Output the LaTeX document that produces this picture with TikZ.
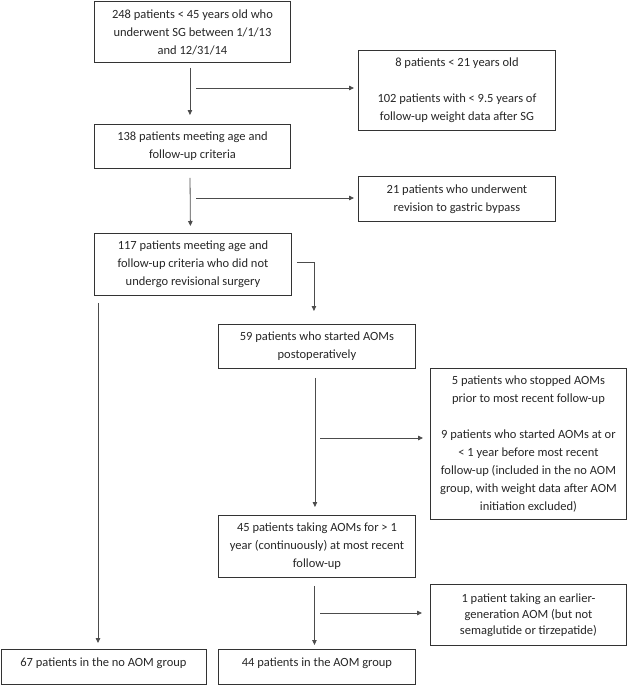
\documentclass[tikz,border=0pt]{standalone}
\usepackage{fontspec}
\setmainfont{Carlito}
\usetikzlibrary{arrows.meta}
\begin{document}
\begin{tikzpicture}[x=1pt,y=-1pt,
  box/.style={draw=black!80, line width=0.9pt, align=center, inner sep=0pt,
    anchor=north west, font=\fontsize{12.5}{18}\selectfont, text=black!85},
  arr/.style={draw=black!70, line width=0.8pt, -{Triangle[length=5pt,width=4.5pt]}}]
\useasboundingbox (0,0) rectangle (627,685);

\node[box, minimum width=196pt, minimum height=61pt] (b1) at (94,1)
  {248 patients < 45 years old who\\underwent SG between 1/1/13\\and 12/31/14};
\node[box, minimum width=197pt, minimum height=80pt] (r1) at (358,50)
  {8 patients < 21 years old\\\mbox{}\\102 patients with < 9.5 years of\\follow-up weight data after SG};
\node[box, minimum width=196pt, minimum height=44pt] (b2) at (94,124)
  {138 patients meeting age and\\follow-up criteria};
\node[box, minimum width=197pt, minimum height=45pt] (r2) at (358,176)
  {21 patients who underwent\\revision to gastric bypass};
\node[box, minimum width=197pt, minimum height=62pt] (b3) at (94,233)
  {117 patients meeting age and\\follow-up criteria who did not\\undergo revisional surgery};
\node[box, minimum width=197pt, minimum height=44pt] (b4) at (218,324)
  {59 patients who started AOMs\\postoperatively};
\node[box, minimum width=196pt, minimum height=151pt] (r3) at (430,368)
  {5 patients who stopped AOMs\\prior to most recent follow-up\\\mbox{}\\9 patients who started AOMs at or\\< 1 year before most recent\\follow-up (included in the no AOM\\group, with weight data after AOM\\initiation excluded)};
\node[box, minimum width=197pt, minimum height=62pt] (b5) at (218,515)
  {45 patients taking AOMs for > 1\\year (continuously) at most recent\\follow-up};
\node[box, minimum width=196pt, minimum height=61pt, font=\fontsize{12.5}{16}\selectfont] (r4) at (430,584)
  {1 patient taking an earlier-\\generation AOM (but not\\semaglutide or tirzepatide)};
\node[box, minimum width=205pt, text height=17pt, text depth=18pt] (bl) at (0.5,649)
  {67 patients in the no AOM group};
\node[box, minimum width=197pt, text height=17pt, text depth=18pt] (br) at (218,649)
  {44 patients in the AOM group};

% main flow
\draw[arr, shorten <=5pt, shorten >=9pt] ([xshift=-2.5pt]b1.south) -- ([xshift=-2.5pt]b2.north);
\coordinate (h1) at (196,88);
\draw[arr, shorten >=4pt] (h1) -- (h1 -| r1.west);

\draw[arr, shorten <=9pt, shorten >=7pt] ([xshift=-2.5pt]b2.south) -- ([xshift=-2.5pt]b3.north);
\coordinate (h2) at (196,198);
\draw[arr, shorten >=4pt] (h2) -- (h2 -| r2.west);

\draw[arr, shorten >=13pt] ([xshift=5pt,yshift=2pt]b3.east) -| ([xshift=-3pt]b4.north);

\draw[arr, shorten <=7pt, shorten >=6pt] ([xshift=4pt]b3.south west) -- ([xshift=4pt]b3.south west |- bl.north);

\draw[arr, shorten <=9pt, shorten >=8pt] ([xshift=-2pt]b4.south) -- ([xshift=-2pt]b5.north);
\coordinate (h3) at (320,438);
\draw[arr, shorten >=7pt] (h3) -- (h3 -| r3.west);

\draw[arr, shorten <=8pt, shorten >=4pt] ([xshift=-2.5pt]b5.south) -- ([xshift=-2.5pt]br.north);
\coordinate (h4) at (320,613);
\draw[arr, shorten >=8pt] (h4) -- (h4 -| r4.west);
\end{tikzpicture}
\end{document}
